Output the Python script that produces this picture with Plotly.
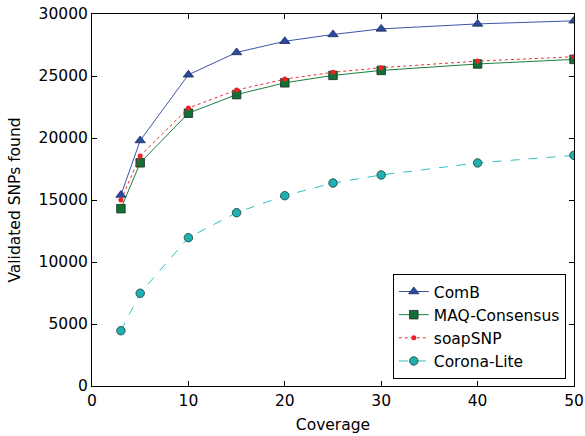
import plotly.graph_objects as go

coverage = [3, 5, 10, 15, 20, 25, 30, 40, 50]
comb = [15400, 19800, 25100, 26900, 27800, 28350, 28800, 29200, 29450]
maq = [14300, 18000, 22000, 23500, 24450, 25050, 25450, 25970, 26340]
soap = [15000, 18550, 22420, 23870, 24750, 25300, 25670, 26200, 26550]
corona = [4460, 7480, 11960, 13980, 15350, 16370, 17020, 17990, 18600]

FONT = "DejaVu Sans"
FS = 15.5
fig = go.Figure()
fig.add_trace(go.Scatter(x=coverage, y=comb, name="ComB", mode="lines+markers",
                         line=dict(color="#3b55a8", width=1),
                         marker=dict(symbol="triangle-up", size=9, color="#2c4a9c",
                                     line=dict(color="#1a2a5a", width=0.8))))
fig.add_trace(go.Scatter(x=coverage, y=maq, name="MAQ-Consensus", mode="lines+markers",
                         line=dict(color="#1a8040", width=1),
                         marker=dict(symbol="square", size=8.5, color="#107035",
                                     line=dict(color="#1a2a1a", width=0.8))))
fig.add_trace(go.Scatter(x=coverage, y=soap, name="soapSNP", mode="lines+markers",
                         line=dict(color="#f03030", width=1, dash="dot"),
                         marker=dict(symbol="circle", size=5, color="#ee2222",
                                     line=dict(width=0))))
fig.add_trace(go.Scatter(x=coverage, y=corona, name="Corona-Lite", mode="lines+markers",
                         line=dict(color="#30c0c0", width=1, dash="dash"),
                         marker=dict(symbol="circle", size=8.5, color="#20b0b0",
                                     line=dict(color="#1a3a3a", width=0.8))))

axis_common = dict(showline=True, linecolor="black", linewidth=1, mirror="ticks",
                   ticks="inside", ticklen=5, tickcolor="black", showgrid=False,
                   zeroline=False, automargin=False,
                   tickfont=dict(family=FONT, size=FS, color="black"))
fig.update_layout(
    width=585, height=436,
    margin=dict(l=92, r=11, t=14, b=50),
    paper_bgcolor="white", plot_bgcolor="white",
    font=dict(family=FONT, size=FS, color="black"),
    xaxis=dict(range=[0, 50], tickvals=[0, 10, 20, 30, 40, 50],
               title=dict(text="Coverage", font=dict(family=FONT, size=FS), standoff=10),
               **axis_common),
    yaxis=dict(range=[0, 30000], tickvals=[0, 5000, 10000, 15000, 20000, 25000, 30000],
               tickformat="d",
               title=dict(text="Validated SNPs found", font=dict(family=FONT, size=FS), standoff=14),
               **axis_common),
    legend=dict(x=0.983, y=0.019, xanchor="right", yanchor="bottom",
                bordercolor="black", borderwidth=1, bgcolor="white",
                font=dict(family=FONT, size=FS), tracegroupgap=0),
    showlegend=True,
)
fig.write_html("out.html")
